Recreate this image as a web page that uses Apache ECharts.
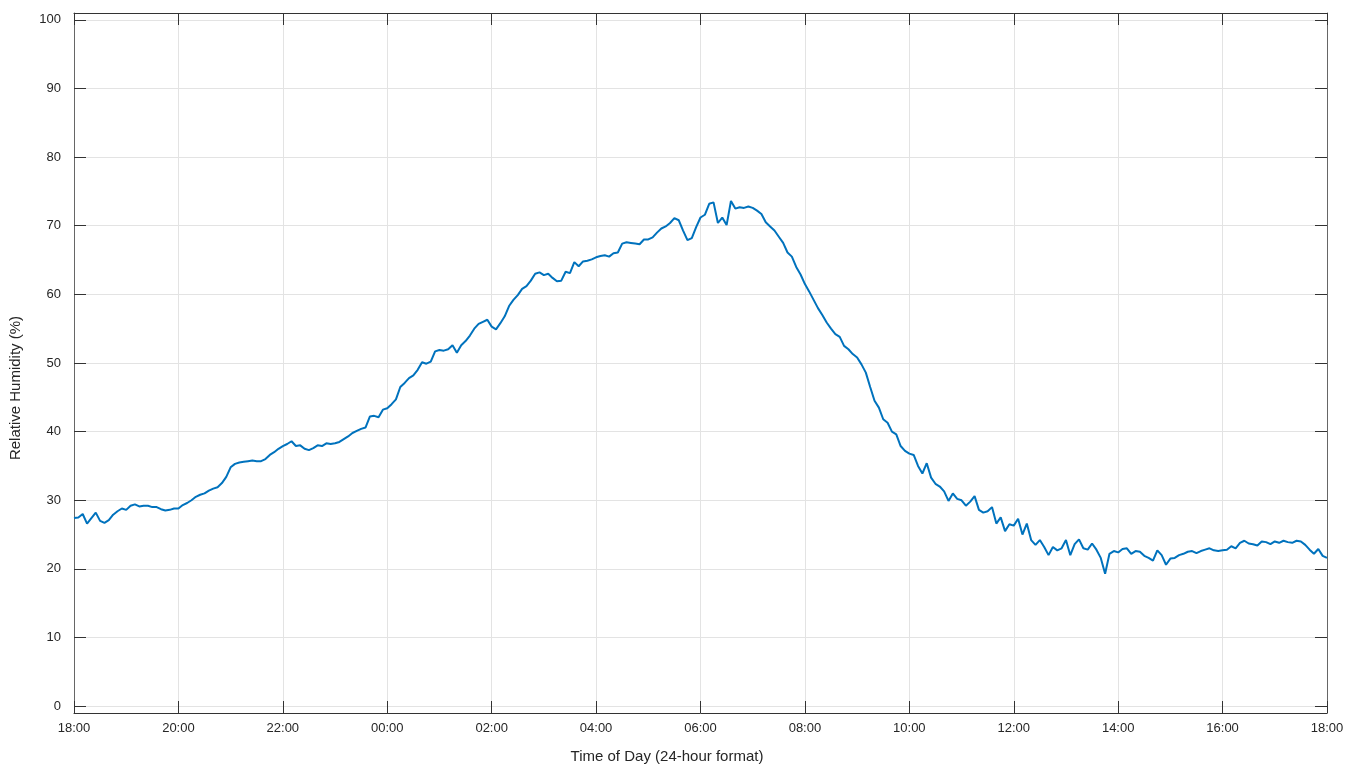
<!DOCTYPE html>
<html>
<head>
<meta charset="utf-8">
<script src="https://cdn.jsdelivr.net/npm/echarts@6/dist/echarts.min.js"></script>
<style>
html,body{margin:0;padding:0;background:#fff;}
#chart{width:1350px;height:770px;}
</style>
</head>
<body>
<div id="chart"></div>
<script>
// Sampling step of the readings (minutes), starting 18:00
const stepMinutes = 5;

// Relative humidity (%) read every 5 minutes
const rh18to22 = [
  27.4, 27.5, 28.0, 26.6, 27.4, 28.2, 27.0, 26.7, 27.1, 27.9, 28.4, 28.8,
  28.6, 29.2, 29.4, 29.1, 29.2, 29.2, 29.0, 29.0, 28.7, 28.5, 28.6, 28.8,
  28.8, 29.3, 29.6, 30.0, 30.5, 30.8, 31.0, 31.4, 31.7, 31.9, 32.5, 33.4,
  34.8, 35.3, 35.5, 35.6, 35.7, 35.8, 35.7, 35.7, 36.0, 36.6, 37.0, 37.5
];
const rh22to02 = [
  37.9, 38.2, 38.6, 37.9, 38.0, 37.5, 37.3, 37.6, 38.0, 37.9, 38.3, 38.2,
  38.3, 38.5, 38.9, 39.3, 39.8, 40.1, 40.4, 40.6, 42.2, 42.3, 42.1, 43.2,
  43.4, 44.0, 44.7, 46.5, 47.1, 47.8, 48.2, 49.0, 50.1, 49.9, 50.2, 51.7,
  51.9, 51.8, 52.0, 52.6, 51.5, 52.6, 53.2, 54.0, 55.0, 55.7, 56.0, 56.3
];
const rh02to06 = [
  55.3, 54.9, 55.8, 56.8, 58.3, 59.2, 59.9, 60.8, 61.2, 62.0, 63.0, 63.2,
  62.8, 63.0, 62.4, 61.9, 62.0, 63.3, 63.1, 64.7, 64.1, 64.8, 64.9, 65.1,
  65.4, 65.6, 65.7, 65.5, 66.0, 66.1, 67.4, 67.6, 67.5, 67.4, 67.3, 68.0,
  68.0, 68.3, 69.0, 69.6, 69.9, 70.4, 71.1, 70.8, 69.3, 67.9, 68.2, 69.8
];
const rh06to10 = [
  71.2, 71.6, 73.2, 73.4, 70.4, 71.2, 70.1, 73.6, 72.5, 72.7, 72.6, 72.8,
  72.6, 72.2, 71.7, 70.5, 69.9, 69.3, 68.4, 67.5, 66.1, 65.5, 64.0, 62.9,
  61.5, 60.4, 59.2, 58.0, 57.0, 55.9, 55.0, 54.2, 53.8, 52.5, 52.0, 51.3,
  50.8, 49.8, 48.6, 46.5, 44.5, 43.5, 41.8, 41.3, 40.0, 39.6, 37.9, 37.2
];
const rh10to14 = [
  36.8, 36.6, 35.0, 33.9, 35.4, 33.3, 32.4, 32.0, 31.3, 29.9, 31.0, 30.2,
  30.0, 29.2, 29.8, 30.6, 28.6, 28.2, 28.4, 29.0, 26.6, 27.5, 25.5, 26.5,
  26.3, 27.3, 25.0, 26.6, 24.2, 23.5, 24.2, 23.2, 22.0, 23.2, 22.7, 23.0,
  24.2, 22.0, 23.6, 24.3, 23.0, 22.8, 23.7, 22.8, 21.6, 19.3, 22.2, 22.6
];
const rh14to18 = [
  22.4, 22.9, 23.0, 22.2, 22.6, 22.5, 21.9, 21.6, 21.2, 22.7, 22.0, 20.6,
  21.5, 21.6, 22.0, 22.2, 22.5, 22.6, 22.3, 22.6, 22.8, 23.0, 22.7, 22.6,
  22.7, 22.8, 23.3, 23.0, 23.8, 24.1, 23.7, 23.6, 23.4, 24.0, 23.9, 23.6,
  24.0, 23.8, 24.1, 23.9, 23.8, 24.1, 24.0, 23.5, 22.8, 22.2, 22.9, 21.9,
  21.6
];

// Tick labels (every 2 hours from 18:00)
const xTickLabels = ['18:00','20:00','22:00','00:00','02:00','04:00','06:00','08:00','10:00','12:00','14:00','16:00','18:00'];
const yTickValues = [0, 10, 20, 30, 40, 50, 60, 70, 80, 90, 100];

const humidity = [].concat(rh18to22, rh22to02, rh02to06, rh06to10, rh10to14, rh14to18);
const seriesData = humidity.map((v, i) => [i * stepMinutes / 60, v]);

const FONT = '"Liberation Sans", Arial, Helvetica, sans-serif';
const TXT = '#262626';
const GRIDC = '#e3e3e3';

const chart = echarts.init(document.getElementById('chart'), null, {renderer: 'canvas'});

const xCommon = {
  type: 'value', min: 0, max: 24, interval: 2,
  axisLine: {show: true, onZero: false, lineStyle: {color: '#333', width: 1}},
  axisTick: {show: true, inside: true, length: 12, lineStyle: {color: '#333', width: 1}}
};
const yCommon = {
  type: 'value', min: -1, max: 101,
  axisLine: {show: true, onZero: false, lineStyle: {color: '#666', width: 1}},
  axisTick: {show: true, inside: true, length: 12, customValues: yTickValues, lineStyle: {color: '#333', width: 1}}
};

chart.setOption({
  animation: false,
  backgroundColor: '#ffffff',
  grid: {left: 74, right: 23, top: 13, bottom: 57, containLabel: false},
  xAxis: [
    Object.assign({}, xCommon, {
      position: 'bottom',
      axisLabel: {
        show: true, margin: 9, fontFamily: FONT, fontSize: 13, color: TXT,
        formatter: (v) => xTickLabels[Math.round(v / 2)]
      },
      splitLine: {show: true, lineStyle: {color: GRIDC, width: 1}}
    }),
    Object.assign({}, xCommon, {
      position: 'top',
      axisLabel: {show: false},
      splitLine: {show: false}
    })
  ],
  yAxis: [
    Object.assign({}, yCommon, {
      position: 'left',
      axisLabel: {
        show: true, margin: 13, fontFamily: FONT, fontSize: 13, color: TXT,
        customValues: yTickValues, padding: [0, 0, 6, 0]
      },
      splitLine: {show: true, lineStyle: {color: GRIDC, width: 1}}
    }),
    Object.assign({}, yCommon, {
      position: 'right',
      axisLabel: {show: false},
      splitLine: {show: false}
    })
  ],
  series: [{
    type: 'line',
    xAxisIndex: 0,
    yAxisIndex: 0,
    data: seriesData,
    showSymbol: false,
    symbol: 'none',
    lineStyle: {color: '#0072BD', width: 2},
    itemStyle: {color: '#0072BD'},
    z: 5
  }],
  graphic: [
    {
      type: 'text', x: 667, y: 757,
      style: {text: 'Time of Day (24-hour format)', font: '15px ' + FONT, fill: TXT, align: 'center', verticalAlign: 'middle'}
    },
    {
      type: 'text', x: 16, y: 388, rotation: Math.PI / 2,
      style: {text: 'Relative Humidity (%)', font: '15px ' + FONT, fill: TXT, align: 'center', verticalAlign: 'middle'}
    }
  ]
});
</script>
</body>
</html>
